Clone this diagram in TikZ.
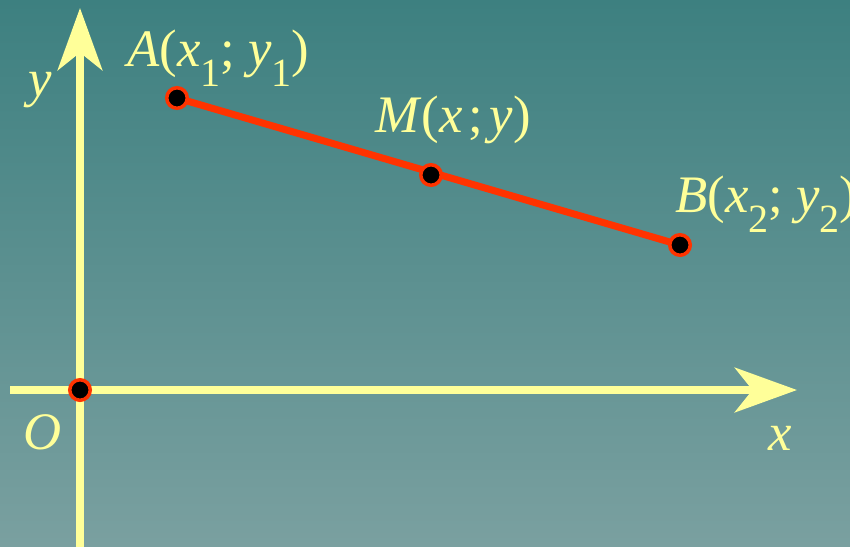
\documentclass[tikz,border=0pt]{standalone}
\usepackage{fontspec}
\setmainfont{Liberation Serif}
\usepackage{graphicx}
\usetikzlibrary{arrows.meta}

\definecolor{bgtop}{RGB}{61,128,128}
\definecolor{bgbot}{RGB}{122,160,160}
\definecolor{axisyellow}{RGB}{255,255,153}
\definecolor{segred}{RGB}{255,51,0}
\newcommand{\lsub}[1]{\raisebox{-0.38em}{\scalebox{0.76}{#1}}}

\begin{document}
\begin{tikzpicture}[x=0.03cm,y=-0.03cm,font=\fontsize{45}{54}\selectfont,
  axis/.style={draw=axisyellow,line width=7pt,-{Stealth[length=53pt,width=38pt,inset=15pt]}},
  seg/.style={draw=segred,line width=6pt},
  dot/.style={circle,fill=black,draw=segred,line width=3pt,minimum size=17.5pt,inner sep=0pt},
  lbl/.style={text=axisyellow,inner sep=0pt,anchor=base west}]
  \useasboundingbox (0,0) rectangle (850,546);
  \shade[top color=bgtop,bottom color=bgbot] (0,0) rectangle (850,546);
  % axes
  \coordinate (xs) at (10,390);
  \coordinate (xe) at (797,390);
  \coordinate (ys) at (80,560);
  \coordinate (ye) at (80,8);
  \draw[axis] (xs) -- (xe);
  \draw[axis] (ys) -- (ye);
  % segment AB
  \coordinate (A) at (177,98);
  \coordinate (M) at (431,175);
  \coordinate (B) at (680,245);
  \coordinate (O) at (80,390);
  \draw[seg] (A) -- (B);
  \node[dot] (dA) at (A) {};
  \node[dot] (dM) at (M) {};
  \node[dot] (dB) at (B) {};
  \node[dot] (dO) at (O) {};
  % labels
  \node[lbl] (ylbl) at (28,96) {\textit{y}};
  \node[lbl] (xlbl) at (768,450) {\textit{x}};
  \node[lbl] (Olbl) at (23,449) {\textit{O}};
  \node[lbl] (Albl) at (127,66) {\textit{A}(\textit{x}\lsub{1}; \textit{y}\lsub{1})};
  \node[lbl] (Mlbl) at (375,132) {\textit{M}(\textit{x}\kern0.12em;\kern0.12em\textit{y})};
  \node[lbl] (Blbl) at (675,212) {\textit{B}(\textit{x}\lsub{2}; \textit{y}\lsub{2})};
\end{tikzpicture}
\end{document}
